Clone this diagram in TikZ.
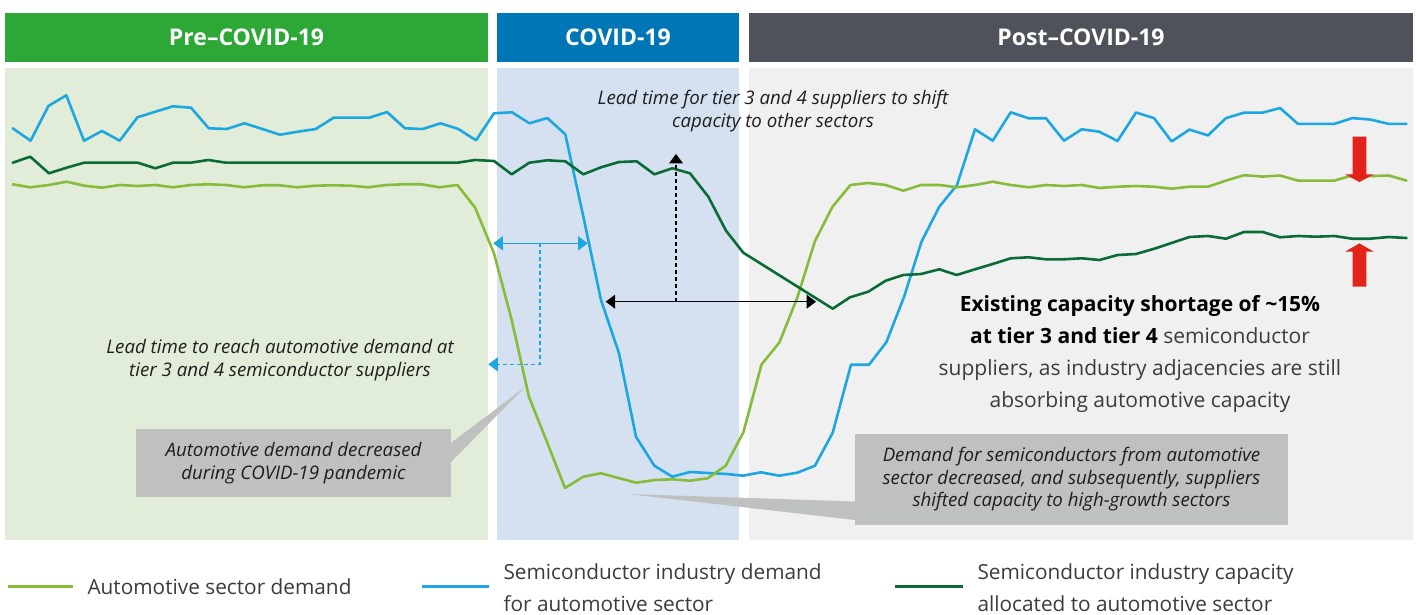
\documentclass[tikz,border=0pt]{standalone}
\usepackage{fontspec}
\setmainfont{Open Sans}
\usetikzlibrary{arrows.meta}
\definecolor{preHead}{HTML}{2DA836}
\definecolor{covHead}{HTML}{0076B6}
\definecolor{postHead}{HTML}{4F525A}
\definecolor{prePanel}{HTML}{E1EDD8}
\definecolor{covPanel}{HTML}{D5E1F0}
\definecolor{postPanel}{HTML}{F0F0F0}
\definecolor{autoGreen}{HTML}{86BC3A}
\definecolor{semiBlue}{HTML}{1DA7E0}
\definecolor{capGreen}{HTML}{0A6B37}
\definecolor{callGray}{HTML}{BFC0C0}
\definecolor{alertRed}{HTML}{E2231A}
\definecolor{txtDark}{HTML}{1E1E1E}
\definecolor{txtGray}{HTML}{3C3C3C}
\tikzset{
  headbar/.style={fill=#1, draw=none},
  headtext/.style={text=white, font=\fontsize{23}{26}\selectfont\bfseries},
  panel/.style={fill=#1, draw=none},
  dataline/.style={draw=#1, line width=2.6pt, line join=round, line cap=round},
  annot/.style={text=txtDark, align=center, font=\fontsize{18.7}{22.5}\selectfont\itshape},
  callbox/.style={fill=callGray, draw=none, inner sep=0pt},
  bluearr/.style={draw=semiBlue, line width=1.4pt},
  bluedash/.style={draw=semiBlue, line width=1.2pt, dash pattern=on 4pt off 3pt},
  blackarr/.style={draw=black, line width=1.3pt},
  blackdash/.style={draw=black, line width=1.1pt, dash pattern=on 4pt off 3pt},
  tipb/.tip={Triangle[length=9.5pt,width=14pt]},
  legline/.style={draw=#1, line width=3.6pt},
  legtext/.style={text=txtGray, anchor=west, align=left, font=\fontsize{20.8}{31.5}\selectfont},
}
\begin{document}
\begin{tikzpicture}[x=1pt,y=-1pt]
\useasboundingbox (0,0) rectangle (1417,615);
\fill[white] (0,0) rectangle (1417,615);
% header bars
\node[headbar=preHead, minimum width=483pt, minimum height=49pt, inner sep=0pt] (hpre) at (246.5,37.5) {};
\node[headbar=covHead, minimum width=242pt, minimum height=49pt, inner sep=0pt] (hcov) at (618,37.5) {};
\node[headbar=postHead, minimum width=664pt, minimum height=49pt, inner sep=0pt] (hpost) at (1081,37.5) {};
\node[headtext] (tpre) at (hpre) {Pre–COVID-19};
\node[headtext] (tcov) at (hcov) {COVID-19};
\node[headtext] (tpost) at (hpost) {Post–COVID-19};
% panels
\fill[panel=prePanel] (5,68) rectangle (488,540);
\fill[panel=covPanel] (497,68) rectangle (739,540);
\fill[panel=postPanel] (749,68) rectangle (1413,540);
% callouts
\fill[callGray] (451,443) -- (525,387) -- (451,462) -- cycle;
\node[callbox, minimum width=315pt, minimum height=68pt] (box1) at (293.5,463) {};
\node[annot] (box1t) at (box1) {Automotive demand decreased\\during COVID-19 pandemic};
\fill[callGray] (855,501.5) -- (628,494) -- (855,520) -- cycle;
\node[callbox, minimum width=433pt, minimum height=91pt] (box2) at (1071.5,479.5) {};
\node[annot] (box2t) at (box2) {Demand for semiconductors from automotive\\sector decreased, and subsequently, suppliers\\shifted capacity to high-growth sectors};
% data lines
\draw[dataline=semiBlue] plot coordinates {(12.7,128.3) (30.6,140.7) (48.4,106) (66.3,95.3) (84,140.7) (102,131) (119.7,140.7) (137.5,117.3) (155.4,111.7) (173,106.3) (191,107.7) (208.8,128.3) (226.7,129) (244.5,123.3) (262.3,129) (280,134.7) (298,131.7) (315.8,129) (333.6,117.7) (351.5,117.7) (369.3,117.7) (387,112) (405,128.3) (422.8,129) (440.6,123.3) (458.3,129) (476,140.3) (494,113.3) (512,112.3) (529.5,123.3) (547.3,118) (565.3,134.3) (583,215) (601,300) (619,353.3) (636,436.7) (654.3,465.7) (672.3,476.7) (690,472) (708.3,473) (726.7,474) (743,475.7) (761,472.3) (779.3,475.7) (797.3,472.7) (815,465.7) (832.7,432.7) (851,364.7) (869,364.7) (886.3,342.3) (904,297) (921.5,241.7) (939.3,206.7) (957,185) (975,129.3) (992.7,140.7) (1010.7,112.3) (1028.7,118.3) (1046,118.3) (1064,140.7) (1081.7,129.3) (1099.3,131.7) (1117.5,141) (1136,112.5) (1154,118.1) (1171.6,141.4) (1189.5,129.6) (1208,135.4) (1226,118.1) (1244,112.7) (1262.7,112.7) (1280,108) (1298,123.9) (1316,123.9) (1334.3,123.9) (1352.2,118.1) (1370,119.5) (1388.7,123.9) (1406.5,123.9)};
\draw[dataline=autoGreen] plot coordinates {(12.7,184.3) (30.3,187.3) (48.9,185) (66.6,181.7) (84.2,185.7) (102,187.7) (119.6,185) (137.7,186) (155.3,185) (173,187.3) (190.7,185) (208.3,184.3) (226,185) (244.1,187.3) (261.8,185.3) (279.4,185.3) (297.1,187.3) (314.8,185.7) (332.9,185.3) (350.5,185.7) (368.2,187.3) (386.3,185) (404,184.3) (421.6,184.3) (439.3,187.3) (457.4,185) (475,207.5) (494,253.3) (511.7,320) (529,397) (547,442) (565,488) (583.3,476.7) (601,473.3) (618.5,478) (636,482.7) (655,480) (672.3,479.3) (690,480.7) (707.7,478.3) (725.7,465.7) (743.5,432) (761.5,364.5) (779.5,342.3) (797.5,297) (815,241) (832.5,206.7) (850.5,185) (868.3,183) (885.7,185) (903.3,190.7) (921,185) (939.3,185) (956.7,187.3) (975,185) (992.7,181.7) (1010.7,185) (1028.7,187.3) (1046,185) (1064,186) (1081.7,185) (1099.5,188) (1117.6,186.7) (1136,186) (1154,186.7) (1171.6,188.7) (1189.5,186.7) (1208,186.7) (1226,180.6) (1244,175.2) (1262.7,176.6) (1280,175.5) (1298,180.6) (1316,180.6) (1334.3,180.6) (1352.2,175.5) (1370,176.2) (1388.7,175.5) (1406.5,180.6)};
\draw[dataline=capGreen] plot coordinates {(12.7,162.7) (30.3,156.7) (48.9,173.3) (66.6,167.7) (84.2,162.7) (102,162.7) (119.6,162.7) (137.7,162.7) (155.3,168.3) (173,162.7) (190.7,162.7) (208.3,160) (226,162.7) (244,162.7) (262,162.7) (280,162.7) (297,162.7) (315,162.7) (333,162.7) (351,162.7) (368,162.7) (386,162.7) (404,162.7) (422,162.7) (440,162.7) (457.4,162.7) (475,160) (494,161) (511.7,174.3) (529.3,162.7) (547.3,160.3) (565.3,161.3) (583.3,174.3) (601,167.3) (619,162) (636.7,161.3) (654.3,174.3) (672.3,168.3) (690,173.3) (708.3,196.7) (726,230.7) (743.3,252.7) (832.7,308.7) (850,297.3) (868.3,291.7) (885.7,280.7) (903.3,275) (921,274) (939.3,269.3) (956.7,275) (975,269.3) (992.7,264) (1010.7,258.3) (1028.7,257.3) (1046,259.3) (1064,259.3) (1081.7,258.3) (1099.5,260) (1117.6,255) (1136,254) (1154,248.8) (1171.6,243) (1189.5,237) (1208,236) (1226,238.7) (1244,232) (1262.7,232) (1280,237.3) (1298,236) (1316,236.7) (1334.3,236) (1352.2,238.7) (1370,238.7) (1388.7,237) (1406.5,238)};
% blue lead-time arrow
\coordinate (bL) at (493.3,243.3);
\coordinate (bR) at (587.7,243.3);
\coordinate (bM) at (540,243.3);
\coordinate (bT) at (488.3,364.3);
\draw[bluearr, {tipb[fill=semiBlue]}-{tipb[fill=semiBlue]}] (bL) -- (bR);
\draw[bluedash, -{tipb[fill=semiBlue]}] (bM) |- (bT);
% black lead-time arrow
\coordinate (kL) at (605.7,301.7);
\coordinate (kR) at (816,301.7);
\coordinate (kM) at (676,301.7);
\coordinate (kT) at (676,154);
\draw[blackarr, {tipb}-{tipb}] (kL) -- (kR);
\draw[blackdash, -{tipb}] (kM) -- (kT);
% red arrows
\fill[alertRed] (1352.5,136.7) -- (1366.3,136.7) -- (1366.3,174.5) -- (1373.5,174.5) -- (1359.4,182) -- (1345.3,174.5) -- (1352.5,174.5) -- cycle;
\fill[alertRed] (1352.5,286.7) -- (1366.3,286.7) -- (1366.3,251.5) -- (1373.5,251.5) -- (1359.4,243.4) -- (1345.3,251.5) -- (1352.5,251.5) -- cycle;
% annotations
\node[annot] (lt1) at (773,111) {Lead time for tier 3 and 4 suppliers to shift\\capacity to other sectors};
\node[annot] (lt2) at (280,360) {Lead time to reach automotive demand at\\tier 3 and 4 semiconductor suppliers};
\node[align=center, text=txtGray, font=\fontsize{21}{32}\selectfont] (short) at (1140,354)
  {\textcolor{black}{\bfseries Existing capacity shortage of \textasciitilde15\%}\\
   \textcolor{black}{\bfseries at tier 3 and tier 4} semiconductor\\
   suppliers, as industry adjacencies are still\\
   absorbing automotive capacity};
% legend
\coordinate (l1a) at (8,586.5); \coordinate (l1b) at (73,586.5);
\coordinate (l2a) at (422,586.5); \coordinate (l2b) at (489,586.5);
\coordinate (l3a) at (895,586.5); \coordinate (l3b) at (963,586.5);
\draw[legline=autoGreen] (l1a) -- (l1b);
\draw[legline=semiBlue] (l2a) -- (l2b);
\draw[legline=capGreen] (l3a) -- (l3b);
\node[legtext] (lg1) at (84,586.5) {Automotive sector demand};
\node[legtext] (lg2) at (500,587.5) {Semiconductor industry demand\\for automotive sector};
\node[legtext] (lg3) at (974,587.5) {Semiconductor industry capacity\\allocated to automotive sector};
\end{tikzpicture}
\end{document}
